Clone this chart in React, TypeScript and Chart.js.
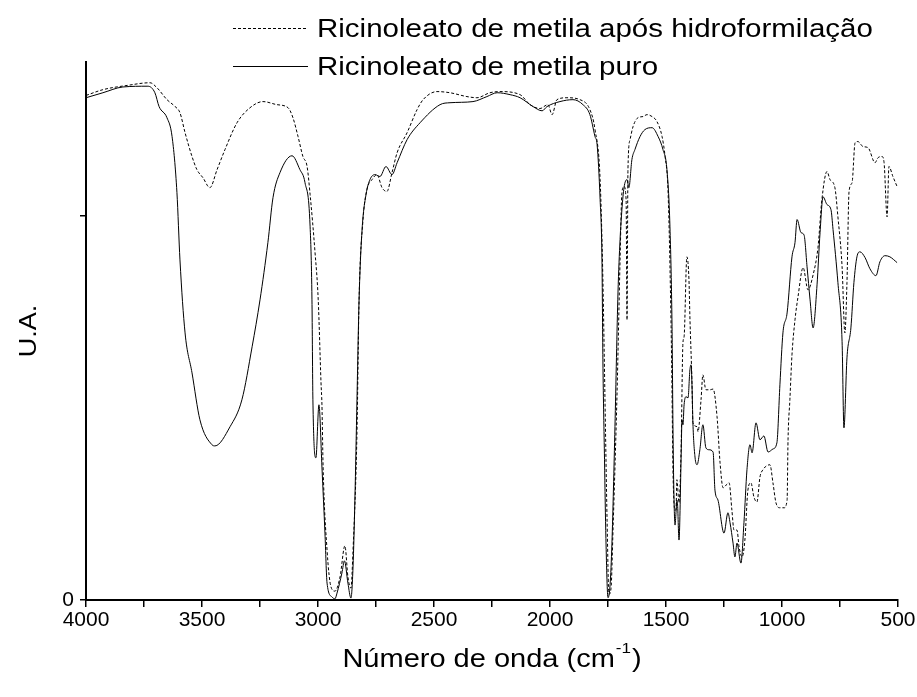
import React, { useEffect, useRef } from "react";
import { Chart, registerables } from "chart.js";

Chart.register(...registerables);

// Ricinoleato de metila puro (solid)
const puroWn = [4000, 3927, 3841, 3733, 3703, 3685, 3651, 3629, 3608, 3595, 3573, 3543, 3509, 3457, 3444, 3379, 3328, 3284, 3250, 3216, 3194, 3164, 3112, 3078, 3056, 3034, 3026, 3022, 3009, 2996, 2983, 2970, 2961, 2940, 2927, 2918, 2897, 2886, 2871, 2858, 2849, 2841, 2832, 2823, 2810, 2793, 2776, 2754, 2733, 2707, 2681, 2659, 2616, 2560, 2474, 2431, 2332, 2272, 2228, 2172, 2129, 2073, 2034, 2013, 1957, 1901, 1858, 1828, 1806, 1797, 1784, 1776, 1772, 1765, 1759, 1750, 1741, 1733, 1720, 1707, 1698, 1690, 1681, 1668, 1660, 1647, 1634, 1612, 1591, 1560, 1534, 1513, 1496, 1483, 1474, 1470, 1466, 1461, 1457, 1453, 1450, 1444, 1435, 1431, 1427, 1422, 1414, 1405, 1397, 1392, 1388, 1384, 1375, 1366, 1354, 1341, 1328, 1315, 1297, 1289, 1276, 1250, 1233, 1224, 1211, 1203, 1194, 1177, 1164, 1151, 1138, 1129, 1112, 1095, 1078, 1060, 1039, 1022, 1009, 996, 978, 957, 944, 935, 918, 905, 892, 879, 866, 849, 836, 823, 806, 789, 780, 759, 741, 733, 720, 703, 690, 677, 664, 642, 621, 595, 578, 556, 535, 504];
const puroVal = [130.7, 132.0, 133.5, 133.7, 132.0, 128.4, 125.5, 120.6, 106.0, 88.5, 69.5, 59.1, 46.9, 40.4, 40.1, 45.1, 52.1, 65.9, 78.1, 93.0, 104.7, 111.2, 115.6, 112.0, 108.6, 97.1, 78.1, 52.1, 37.0, 50.8, 34.6, 17.4, 4.4, 0.8, 0.3, 1.8, 7.0, 10.2, 4.4, 0.5, 8.6, 26.0, 52.1, 78.1, 96.4, 105.5, 109.4, 110.7, 110.2, 112.8, 110.7, 113.8, 119.8, 124.2, 128.9, 129.4, 129.7, 131.0, 132.0, 131.5, 130.7, 128.4, 127.3, 128.4, 129.7, 130.2, 128.9, 126.3, 120.6, 118.5, 104.2, 88.5, 62.5, 36.5, 16.0, 0.6, 4.0, 14.8, 45.1, 79.9, 93.8, 101.6, 107.3, 109.4, 107.3, 114.6, 117.2, 120.6, 122.4, 122.9, 120.6, 117.2, 112.0, 97.1, 71.1, 45.1, 27.9, 19.5, 22.7, 26.0, 24.7, 15.6, 36.5, 46.9, 45.6, 50.8, 52.9, 52.6, 59.9, 61.2, 56.0, 46.1, 37.2, 35.2, 39.1, 45.6, 39.6, 39.1, 38.5, 28.6, 26.0, 17.4, 22.7, 20.1, 14.8, 11.2, 14.8, 9.6, 20.1, 33.9, 40.4, 38.3, 46.1, 41.7, 42.7, 38.5, 39.3, 40.9, 56.0, 69.5, 74.7, 89.3, 93.0, 99.0, 95.6, 95.0, 86.7, 78.1, 70.8, 82.0, 95.6, 104.9, 102.9, 101.6, 96.4, 82.6, 67.2, 44.8, 63.0, 70.8, 82.6, 89.3, 90.6, 89.1, 86.2, 84.4, 88.0, 89.6, 89.3, 87.8];

// Ricinoleato de metila após hidroformilação (dashed)
const hidroWn = [4000, 3927, 3823, 3724, 3694, 3651, 3616, 3595, 3573, 3543, 3522, 3496, 3466, 3435, 3401, 3349, 3293, 3237, 3177, 3129, 3108, 3086, 3065, 3047, 3034, 3013, 2999, 2987, 2983, 2978, 2961, 2944, 2927, 2905, 2884, 2871, 2858, 2849, 2832, 2823, 2806, 2789, 2767, 2746, 2724, 2703, 2681, 2659, 2616, 2573, 2547, 2487, 2431, 2358, 2315, 2259, 2216, 2129, 2086, 2043, 2009, 1991, 1970, 1927, 1871, 1828, 1806, 1784, 1772, 1763, 1754, 1746, 1737, 1728, 1711, 1698, 1690, 1681, 1672, 1668, 1664, 1655, 1642, 1621, 1599, 1582, 1560, 1539, 1517, 1504, 1491, 1478, 1474, 1470, 1461, 1457, 1453, 1444, 1435, 1427, 1422, 1410, 1401, 1397, 1388, 1384, 1366, 1362, 1349, 1341, 1328, 1310, 1297, 1280, 1267, 1254, 1241, 1228, 1216, 1207, 1194, 1185, 1172, 1160, 1147, 1134, 1121, 1108, 1095, 1082, 1052, 1039, 1026, 1009, 991, 978, 974, 966, 957, 944, 931, 909, 888, 866, 845, 828, 806, 793, 772, 759, 741, 729, 720, 711, 698, 685, 673, 651, 629, 599, 586, 569, 560, 547, 539, 522, 504];
const hidroVal = [131.3, 132.8, 133.9, 134.6, 133.3, 130.2, 128.4, 126.8, 121.6, 115.4, 112.0, 109.9, 107.3, 112.0, 117.2, 124.2, 128.1, 129.7, 128.9, 128.1, 125.5, 120.6, 115.4, 112.8, 105.5, 90.6, 78.1, 56.5, 50.8, 34.6, 13.0, 3.4, 2.3, 6.0, 14.1, 6.0, 3.1, 13.0, 43.5, 78.1, 99.0, 106.8, 109.4, 110.7, 107.3, 106.3, 111.2, 116.4, 121.6, 127.6, 130.2, 132.3, 132.0, 131.0, 130.7, 132.0, 132.3, 131.5, 128.9, 127.9, 128.9, 126.3, 130.2, 130.7, 130.2, 127.6, 122.4, 109.4, 83.3, 52.1, 20.8, 1.5, 3.0, 19.0, 53.9, 88.5, 106.0, 107.6, 104.2, 72.9, 112.0, 119.8, 123.2, 125.5, 125.8, 126.3, 125.8, 124.5, 120.6, 115.4, 106.0, 71.1, 53.9, 33.9, 23.4, 23.4, 31.3, 25.3, 39.1, 66.9, 68.5, 89.3, 83.3, 73.7, 56.5, 46.1, 45.1, 43.8, 52.1, 58.6, 54.7, 54.7, 54.9, 47.7, 35.7, 29.2, 29.9, 30.5, 23.4, 18.2, 18.2, 13.8, 11.2, 15.6, 28.6, 30.5, 26.8, 25.5, 32.0, 33.9, 35.2, 30.5, 25.3, 24.0, 24.0, 26.0, 41.7, 52.1, 63.8, 72.9, 78.9, 86.5, 80.7, 84.6, 91.7, 104.2, 111.5, 109.4, 107.3, 99.7, 86.7, 69.5, 82.6, 106.3, 108.6, 119.0, 119.3, 118.0, 117.7, 113.8, 115.1, 115.4, 113.8, 99.7, 112.8, 110.2, 107.6];

const xTickValues = [4000, 3750, 3500, 3250, 3000, 2750, 2500, 2250, 2000, 1750, 1500, 1250, 1000, 750, 500];
const yTickValues = [0, 100];
const yTickLabels = ["0", ""];
const legendLabels = ["Ricinoleato de metila após hidroformilação", "Ricinoleato de metila puro"];
const xTitle = "Número de onda (cm";
const xTitleSup = "-1";
const yTitle = "U.A.";

const FONT = "'Liberation Sans', Arial, sans-serif";
const SY = 0.88; // vertical squeeze of the text glyphs

const toPoints = (xs: number[], ys: number[]) => xs.map((x, i) => ({ x, y: ys[i] }));

function squeezedText(ctx: CanvasRenderingContext2D, text: string, x: number, baseline: number, size: number) {
  ctx.save();
  ctx.font = `${size}px ${FONT}`;
  ctx.textBaseline = "alphabetic";
  ctx.translate(x, baseline);
  ctx.scale(1, SY);
  ctx.fillText(text, 0, 0);
  ctx.restore();
}

const textPlugin = {
  id: "textPlugin",
  afterDraw(chart: any) {
    const ctx = chart.ctx as CanvasRenderingContext2D;
    const area = chart.chartArea;
    ctx.save();
    ctx.fillStyle = "#000";
    ctx.strokeStyle = "#000";
    ctx.textAlign = "left";
    // legend
    const lx0 = 233, lx1 = 308, tx = 317;
    const sampleY = [28, 66];
    const baseY = [37, 75];
    sampleY.forEach((sy, i) => {
      ctx.beginPath();
      ctx.lineWidth = 1;
      ctx.setLineDash(i === 0 ? [3, 2] : []);
      ctx.moveTo(lx0, sy + 0.5);
      ctx.lineTo(lx1, sy + 0.5);
      ctx.stroke();
      ctx.setLineDash([]);
      squeezedText(ctx, legendLabels[i], tx, baseY[i], 29.5);
    });
    // x title
    const bigSize = 29;
    const supSize = 17;
    ctx.font = `${bigSize}px ${FONT}`;
    const wMain = ctx.measureText(xTitle).width;
    const wClose = ctx.measureText(")").width;
    ctx.font = `${supSize}px ${FONT}`;
    const wSup = ctx.measureText(xTitleSup).width;
    const total = wMain + wSup + wClose + 2;
    const cx = (area.left + area.right) / 2;
    let x = cx - total / 2;
    const tb = 667;
    squeezedText(ctx, xTitle, x, tb, bigSize);
    x += wMain + 1;
    squeezedText(ctx, xTitleSup, x, tb - 14, supSize);
    x += wSup + 1;
    squeezedText(ctx, ")", x, tb, bigSize);
    // y title (rotated)
    ctx.save();
    ctx.translate(36, (area.top + area.bottom) / 2);
    ctx.rotate(-Math.PI / 2);
    ctx.scale(1, SY);
    ctx.font = `27px ${FONT}`;
    ctx.textAlign = "center";
    ctx.textBaseline = "alphabetic";
    ctx.fillText(yTitle, 0, 0);
    ctx.restore();
    ctx.restore();
  },
};

export default function App() {
  const ref = useRef<HTMLCanvasElement | null>(null);
  useEffect(() => {
    document.body.style.margin = "0";
    const canvas = ref.current!;
    const chart = new Chart(canvas, {
      type: "scatter",
      data: {
        datasets: [
          {
            label: legendLabels[0],
            data: toPoints(hidroWn, hidroVal),
            showLine: true,
            borderColor: "#000",
            borderWidth: 1,
            borderDash: [3, 2],
            pointRadius: 0,
            cubicInterpolationMode: "monotone",
            fill: false,
          },
          {
            label: legendLabels[1],
            data: toPoints(puroWn, puroVal),
            showLine: true,
            borderColor: "#000",
            borderWidth: 1,
            pointRadius: 0,
            cubicInterpolationMode: "monotone",
            fill: false,
          },
        ],
      },
      options: {
        animation: false,
        responsive: false,
        devicePixelRatio: 1,
        layout: { padding: { top: 62, right: 19, left: 0, bottom: 0 } },
        plugins: { legend: { display: false }, tooltip: { enabled: false } },
        scales: {
          x: {
            type: "linear",
            reverse: true,
            min: 500,
            max: 4000,
            afterBuildTicks: (s: any) => {
              s.ticks = xTickValues.map((v) => ({ value: v }));
            },
            afterFit: (s: any) => {
              s.height = 97;
            },
            ticks: {
              autoSkip: false,
              maxRotation: 0,
              color: "#000",
              padding: 1,
              font: { family: FONT, size: 21 },
              callback: (v: any) => (Number(v) % 500 === 0 ? String(v) : ""),
            },
            grid: { display: true, drawOnChartArea: false, drawTicks: true, tickLength: 7, color: "#000", lineWidth: 1.5 },
            border: { display: true, color: "#000", width: 2 },
          },
          y: {
            min: 0,
            max: 140,
            afterBuildTicks: (s: any) => {
              s.ticks = yTickValues.map((v) => ({ value: v }));
            },
            afterFit: (s: any) => {
              s.width = 86;
            },
            ticks: {
              color: "#000",
              padding: 6,
              font: { family: FONT, size: 21 },
              callback: (v: any) => yTickLabels[yTickValues.indexOf(Number(v))] ?? "",
            },
            grid: { display: true, drawOnChartArea: false, drawTicks: true, tickLength: 6, color: "#000", lineWidth: 1.5 },
            border: { display: true, color: "#000", width: 2 },
          },
        },
      },
      plugins: [textPlugin],
    });
    return () => chart.destroy();
  }, []);
  return (
    <div style={{ width: 917, height: 697, background: "#fff" }}>
      <canvas ref={ref} width={917} height={697} />
    </div>
  );
}
